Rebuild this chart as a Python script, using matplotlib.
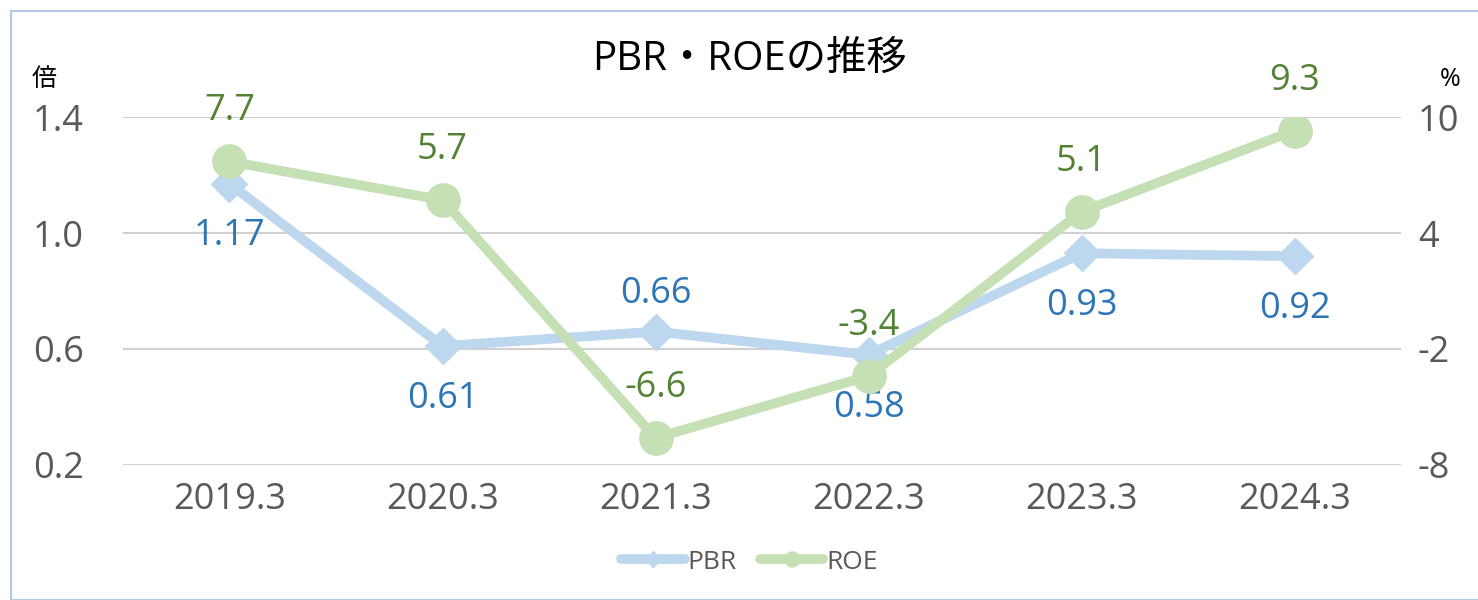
import matplotlib
matplotlib.use('Agg')
import matplotlib.pyplot as plt
from matplotlib.patches import Rectangle

plt.rcParams['font.family'] = ['Open Sans', 'Noto Sans CJK JP', 'DejaVu Sans']
plt.rcParams['axes.unicode_minus'] = False

years = ['2019.3', '2020.3', '2021.3', '2022.3', '2023.3', '2024.3']
pbr = [1.17, 0.61, 0.66, 0.58, 0.93, 0.92]
roe = [7.7, 5.7, -6.6, -3.4, 5.1, 9.3]
pbr_lbl = ['1.17', '0.61', '0.66', '0.58', '0.93', '0.92']
roe_lbl = ['7.7', '5.7', '-6.6', '-3.4', '5.1', '9.3']
pbr_above = [False, False, True, False, False, False]

c_pbr, c_pbr_t = '#BDD7EE', '#2E75B6'
c_roe, c_roe_t = '#C5E0B4', '#548235'
grey = '#595959'
fs = 26

fig = plt.figure(figsize=(14.78, 6.0), dpi=100)
ax = fig.add_axes([0.0832, 0.225, 0.8648, 0.58])
ax2 = ax.twinx()

x = list(range(len(years)))

# ── PBR (左軸) ────────────────────────────────────
ax.plot(x, pbr, color=c_pbr, lw=7, marker='D', ms=18, mec=c_pbr, mfc=c_pbr,
        solid_capstyle='round', label='PBR', zorder=3)
for i, v in enumerate(pbr):
    dy = 27 if pbr_above[i] else -38
    ax.annotate(pbr_lbl[i], (i, v), xytext=(0, dy), textcoords='offset points',
                ha='center', va='center', fontsize=fs, color=c_pbr_t)

ax.set_xlim(-0.5, len(years) - 0.5)
ax.set_ylim(0.2, 1.4)
ax.set_yticks([0.2, 0.6, 1.0, 1.4])
ax.set_yticklabels(['0.2', '0.6', '1.0', '1.4'])
ax.set_xticks(x)
ax.set_xticklabels(years)
ax.grid(axis='y', color='#D0D0D0', lw=1.5)
ax.set_axisbelow(True)

# ── ROE (右軸) ────────────────────────────────────
ax2.plot(x, roe, color=c_roe, lw=7, marker='o', ms=24, mec=c_roe, mfc=c_roe,
         solid_capstyle='round', label='ROE', zorder=3)
for i, v in enumerate(roe):
    ax2.annotate(roe_lbl[i], (i, v), xytext=(0, 36), textcoords='offset points',
                 ha='center', va='center', fontsize=fs, color=c_roe_t)
ax2.set_ylim(-8, 10)
ax2.set_yticks([-8, -2, 4, 10])

for a in (ax, ax2):
    for s in a.spines.values():
        s.set_visible(False)
    a.tick_params(length=0, labelsize=fs, labelcolor=grey)
ax.tick_params(axis='x', pad=12)
ax.tick_params(axis='y', pad=28)
ax2.tick_params(axis='y', pad=12)

fig.text(0.507, 0.9, 'PBR・ROEの推移', ha='center', va='center', fontsize=29, color='black')
fig.text(0.030, 0.868, '倍', ha='center', va='center', fontsize=18, color='black')
fig.text(0.981, 0.868, '%', ha='center', va='center', fontsize=18, color='black')

h1, l1 = ax.get_legend_handles_labels()
h2, l2 = ax2.get_legend_handles_labels()
leg = fig.legend(h1 + h2, l1 + l2, loc='center', bbox_to_anchor=(0.507, 0.063), ncol=2,
                 frameon=False, fontsize=19, handlelength=2.4, handletextpad=0.1,
                 columnspacing=0.9, markerscale=0.45)
for t in leg.get_texts():
    t.set_color(grey)

fig.patches.append(Rectangle((11 / 1478, 0), 1.2, 1 - 11 / 600, transform=fig.transFigure,
                             fill=False, ec='#B4C7E7', lw=1.5))

fig.savefig('out.png', dpi=100)
